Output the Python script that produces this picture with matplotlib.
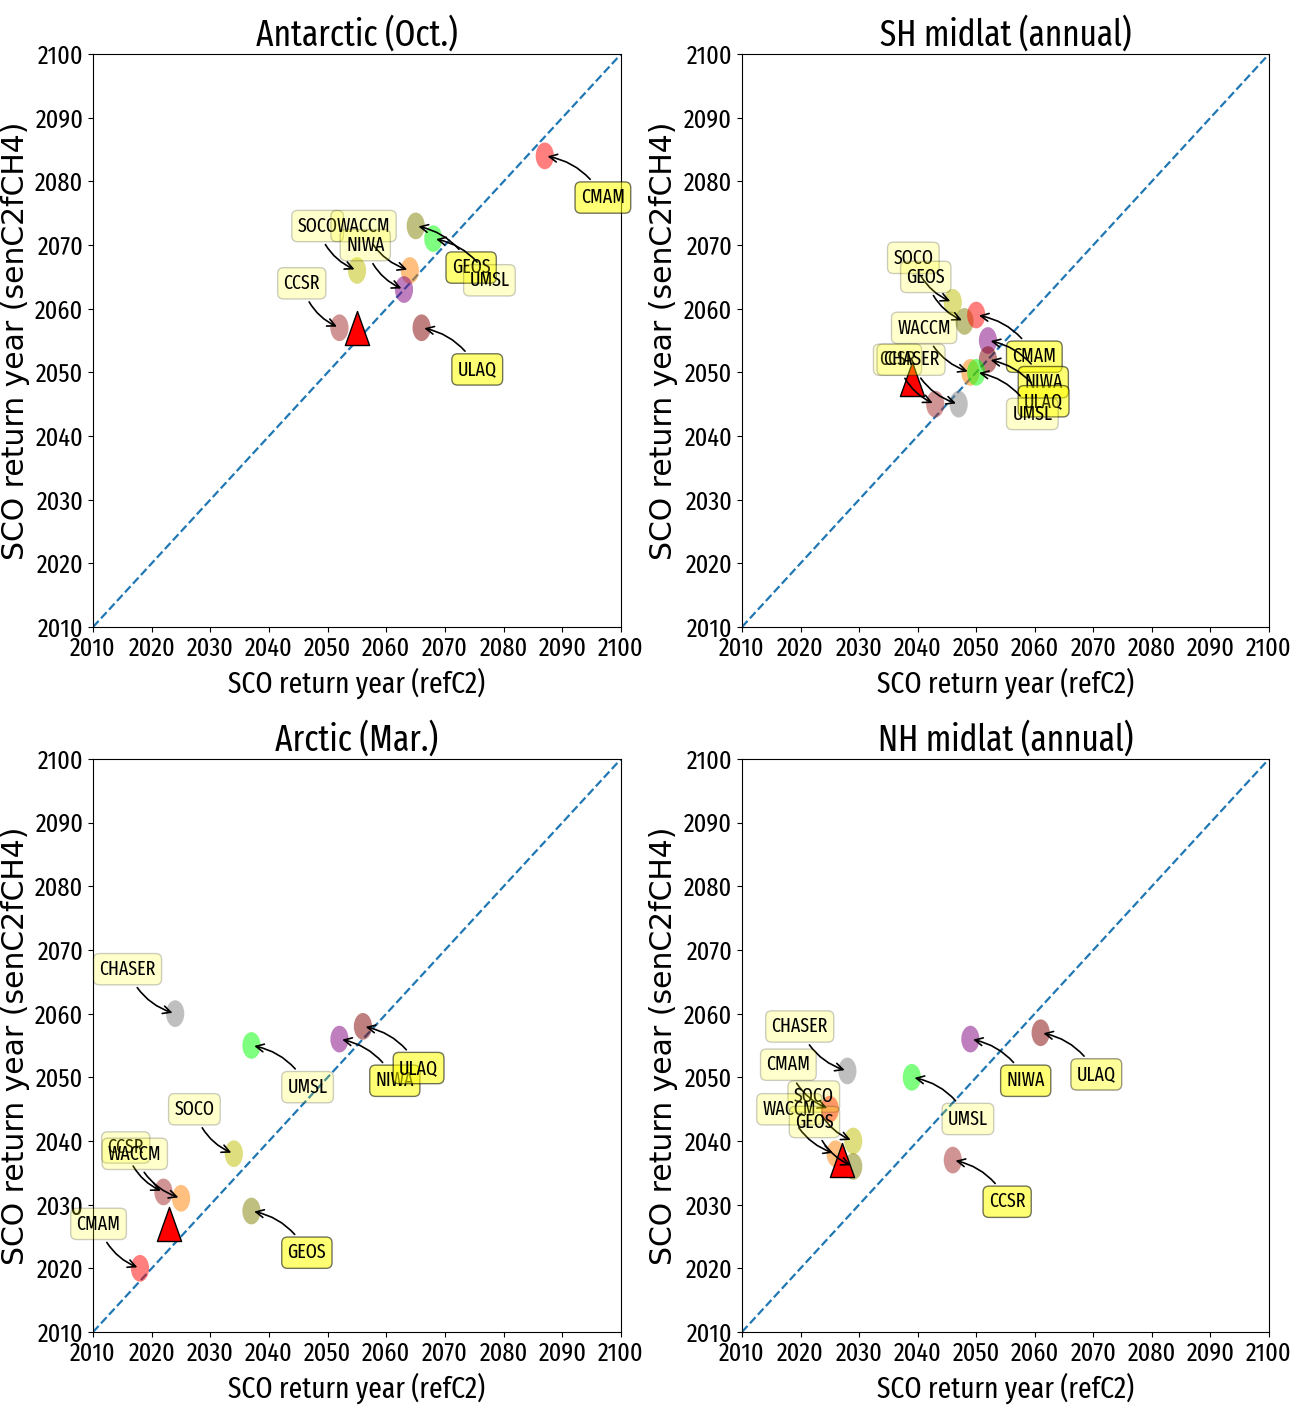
import matplotlib
matplotlib.use("Agg")
import matplotlib.pyplot as plt
from matplotlib import font_manager
from matplotlib.font_manager import FontProperties
from matplotlib.patches import Ellipse
from matplotlib.path import Path
from matplotlib.textpath import TextToPath

model_colors = {'CMAM': 'red', 'CCSR': 'brown', 'GEOS': 'olive', 'UMSL': 'lime',
                'NIWA': 'purple', 'ULAQ': 'maroon', 'SOCO': 'y', 'WACCM': '#ff8000',
                'CHASER': 'gray'}

# Antarctic (Oct.)
ant_models = ['CMAM', 'GEOS', 'UMSL', 'SOCO', 'WACCM', 'NIWA', 'CCSR', 'ULAQ']
ant_ref = [2087, 2065, 2068, 2055, 2064, 2063, 2052, 2066]
ant_sen = [2084, 2073, 2071, 2066, 2066, 2063, 2057, 2057]
ant_side = ['lr', 'lr', 'lr', 'ul', 'ul', 'ul', 'ul', 'lr']
ant_alpha = [0.55, 0.55, 0.2, 0.2, 0.2, 0.2, 0.2, 0.55]
ant_mean = [2055, 2057]

# SH midlat (annual)
sh_models = ['SOCO', 'GEOS', 'CMAM', 'NIWA', 'ULAQ', 'WACCM', 'UMSL', 'CCSR', 'CHASER']
sh_ref = [2046, 2048, 2050, 2052, 2052, 2049, 2050, 2043, 2047]
sh_sen = [2061, 2058, 2059, 2055, 2052, 2050, 2050, 2045, 2045]
sh_side = ['ul', 'ul', 'lr', 'lr', 'lr', 'ul', 'lr', 'ul', 'ul']
sh_alpha = [0.2, 0.2, 0.55, 0.55, 0.55, 0.2, 0.2, 0.2, 0.2]
sh_mean = [2039, 2049]

# Arctic (Mar.)
arc_models = ['CHASER', 'UMSL', 'NIWA', 'ULAQ', 'SOCO', 'CCSR', 'WACCM', 'GEOS', 'CMAM']
arc_ref = [2024, 2037, 2052, 2056, 2034, 2022, 2025, 2037, 2018]
arc_sen = [2060, 2055, 2056, 2058, 2038, 2032, 2031, 2029, 2020]
arc_side = ['ul', 'lr', 'lr', 'lr', 'ul', 'ul', 'ul', 'lr', 'ul']
arc_alpha = [0.2, 0.2, 0.55, 0.55, 0.2, 0.2, 0.2, 0.55, 0.2]
arc_mean = [2023, 2027]

# NH midlat (annual)
nh_models = ['CHASER', 'CMAM', 'SOCO', 'WACCM', 'GEOS', 'CCSR', 'UMSL', 'NIWA', 'ULAQ']
nh_ref = [2028, 2025, 2029, 2026, 2029, 2046, 2039, 2049, 2061]
nh_sen = [2051, 2045, 2040, 2038, 2036, 2037, 2050, 2056, 2057]
nh_side = ['ul', 'ul', 'ul', 'ul', 'ul', 'lr', 'lr', 'lr', 'lr']
nh_alpha = [0.2, 0.2, 0.2, 0.2, 0.2, 0.55, 0.2, 0.55, 0.4]
nh_mean = [2027, 2037]

titles = ['Antarctic (Oct.)', 'SH midlat (annual)', 'Arctic (Mar.)', 'NH midlat (annual)']
ticks = list(range(2010, 2101, 10))

# the reference text is narrow (about 0.72 of DejaVu Sans width) -> look for a narrow face
sample = 'SCO return year (refC2) 2010 CMAM'
ttp = TextToPath()
ref_w = ttp.get_text_width_height_descent(sample, FontProperties(family='DejaVu Sans', size=100), False)[0]
best_fp, best_ratio = FontProperties(family='DejaVu Sans'), 1.0
for f in font_manager.fontManager.ttflist:
    name = f.name
    narrowish = ('Narrow' in name or 'Condensed' in name or 'condensed' in str(f.stretch))
    if not narrowish or 'Mono' in name or 'Serif' in name or 'CJK' in name:
        continue
    w = f.weight
    if isinstance(w, str):
        w = font_manager.weight_dict.get(w, 400)
    if f.style != 'normal' or not (350 <= w <= 450):
        continue
    try:
        fw = ttp.get_text_width_height_descent(sample, FontProperties(fname=f.fname, size=100), False)[0]
    except Exception:
        continue
    r = fw / ref_w
    if abs(r - 0.72) < abs(best_ratio - 0.72):
        best_fp, best_ratio = FontProperties(fname=f.fname), r
shrink = min(1.0, 0.72 / best_ratio)


def nfont(size):
    fp = best_fp.copy()
    fp.set_size(size * shrink)
    return fp


panels = [
    (ant_models, ant_ref, ant_sen, ant_side, ant_alpha, ant_mean),
    (sh_models, sh_ref, sh_sen, sh_side, sh_alpha, sh_mean),
    (arc_models, arc_ref, arc_sen, arc_side, arc_alpha, arc_mean),
    (nh_models, nh_ref, nh_sen, nh_side, nh_alpha, nh_mean),
]
positions = [[0.0718, 0.5544, 0.4074, 0.4072], [0.5725, 0.5544, 0.4067, 0.4072],
             [0.0718, 0.0533, 0.4074, 0.4073], [0.5725, 0.0533, 0.4067, 0.4073]]

# narrow triangle for the multi-model mean
tri = Path([(0, 1), (-0.71, -1), (0.71, -1), (0, 1)],
           [Path.MOVETO, Path.LINETO, Path.LINETO, Path.CLOSEPOLY])

fig = plt.figure(figsize=(12.96, 14.07), dpi=100)

for (models, ref, sen, side, alph, mean), pos, title in zip(panels, positions, titles):
    ax = fig.add_axes(pos)
    ax.plot([2010, 2100], [2010, 2100], '--', color='tab:blue', lw=1.6)
    for m, x, y in zip(models, ref, sen):
        ax.add_patch(Ellipse((x, y), width=3.1, height=4.2, color=model_colors[m],
                             alpha=0.5, lw=0, zorder=2))
    ax.plot(mean[0], mean[1], marker=tri, ms=24.5, mfc='red', mec='black',
            mew=1, ls='none', zorder=4)
    for m, x, y, s, a in zip(models, ref, sen, side, alph):
        if s == 'ul':
            off, ha = (-14, 32), 'right'
        else:
            off, ha = (26, -30), 'left'
        ax.annotate(m, xy=(x, y), xytext=off, textcoords='offset points',
                    ha=ha, va='center', fontproperties=nfont(14), zorder=5,
                    bbox=dict(boxstyle='round,pad=0.3', fc='yellow', alpha=a),
                    arrowprops=dict(arrowstyle='->', color='black', lw=1.2,
                                    connectionstyle='arc3,rad=0.25'))
    ax.set_xlim(2010, 2100)
    ax.set_ylim(2010, 2100)
    ax.set_xticks(ticks)
    ax.set_yticks(ticks)
    for lab in ax.get_xticklabels() + ax.get_yticklabels():
        lab.set_fontproperties(nfont(19))
    ax.set_title(title, fontproperties=nfont(26))
    ax.set_xlabel('SCO return year (refC2)', fontproperties=nfont(21.5))
    ax.set_ylabel('SCO return year (senC2fCH4)', fontsize=21.5, family='DejaVu Sans')

fig.savefig('out.png', dpi=100)
